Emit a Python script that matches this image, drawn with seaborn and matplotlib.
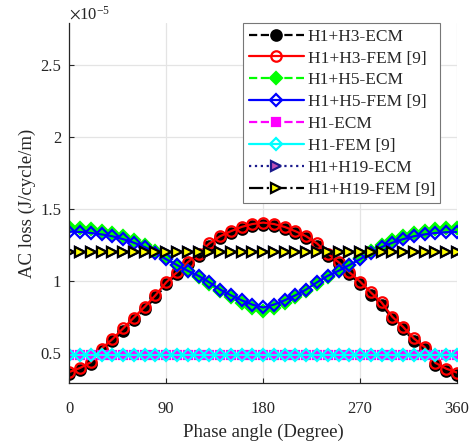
import numpy as np
import matplotlib
matplotlib.use("Agg")
import matplotlib.pyplot as plt
from matplotlib.ticker import ScalarFormatter
import seaborn as sns

# Phase angle samples (degrees)
phase = list(range(0, 361, 10))

# AC loss values in units of 1e-5 J/cycle/m
h3_fem = [0.367, 0.395, 0.435, 0.530, 0.595, 0.670, 0.745, 0.820, 0.900, 0.990,
          1.060, 1.130, 1.190, 1.260, 1.310, 1.345, 1.375, 1.395, 1.405,
          1.395, 1.375, 1.345, 1.310, 1.260, 1.190, 1.130, 1.060, 0.995, 0.920,
          0.850, 0.750, 0.680, 0.600, 0.540, 0.430, 0.390, 0.363]
h3_ecm = [0.352, 0.380, 0.420, 0.515, 0.580, 0.655, 0.730, 0.805, 0.885, 0.975,
          1.045, 1.115, 1.175, 1.245, 1.295, 1.330, 1.360, 1.380, 1.390,
          1.380, 1.360, 1.330, 1.295, 1.245, 1.175, 1.115, 1.045, 0.980, 0.905,
          0.835, 0.735, 0.665, 0.585, 0.525, 0.415, 0.375, 0.348]
h5_ecm = [1.372, 1.368, 1.360, 1.349, 1.335, 1.313, 1.286, 1.252, 1.208, 1.158,
          1.110, 1.068, 1.025, 0.978, 0.928, 0.886, 0.848, 0.812, 0.790,
          0.812, 0.848, 0.886, 0.928, 0.978, 1.025, 1.068, 1.110, 1.158, 1.208,
          1.252, 1.286, 1.313, 1.335, 1.349, 1.360, 1.366, 1.370]
h5_fem = [1.342, 1.340, 1.333, 1.323, 1.310, 1.290, 1.265, 1.235, 1.195, 1.150,
          1.110, 1.070, 1.035, 0.990, 0.940, 0.900, 0.865, 0.835, 0.815,
          0.835, 0.865, 0.900, 0.940, 0.990, 1.035, 1.070, 1.110, 1.150, 1.195,
          1.235, 1.265, 1.290, 1.310, 1.323, 1.333, 1.338, 1.340]
h1_ecm = [0.485, 0.485, 0.485, 0.485, 0.485, 0.485, 0.485, 0.485, 0.485, 0.485,
          0.485, 0.485, 0.485, 0.485, 0.485, 0.485, 0.485, 0.485, 0.485,
          0.485, 0.485, 0.485, 0.485, 0.485, 0.485, 0.485, 0.485, 0.485, 0.485,
          0.485, 0.485, 0.485, 0.485, 0.485, 0.485, 0.485, 0.485]
h1_fem = [0.485, 0.485, 0.485, 0.485, 0.485, 0.485, 0.485, 0.485, 0.485, 0.485,
          0.485, 0.485, 0.485, 0.485, 0.485, 0.485, 0.485, 0.485, 0.485,
          0.485, 0.485, 0.485, 0.485, 0.485, 0.485, 0.485, 0.485, 0.485, 0.485,
          0.485, 0.485, 0.485, 0.485, 0.485, 0.485, 0.485, 0.485]
h19_ecm = [1.20, 1.20, 1.20, 1.20, 1.20, 1.20, 1.20, 1.20, 1.20, 1.20,
           1.20, 1.20, 1.20, 1.20, 1.20, 1.20, 1.20, 1.20, 1.20,
           1.20, 1.20, 1.20, 1.20, 1.20, 1.20, 1.20, 1.20, 1.20, 1.20,
           1.20, 1.20, 1.20, 1.20, 1.20, 1.20, 1.20, 1.20]
h19_fem = [1.20, 1.20, 1.20, 1.20, 1.20, 1.20, 1.20, 1.20, 1.20, 1.20,
           1.20, 1.20, 1.20, 1.20, 1.20, 1.20, 1.20, 1.20, 1.20,
           1.20, 1.20, 1.20, 1.20, 1.20, 1.20, 1.20, 1.20, 1.20, 1.20,
           1.20, 1.20, 1.20, 1.20, 1.20, 1.20, 1.20, 1.20]

labels = ["H1+H3-ECM", "H1+H3-FEM [9]", "H1+H5-ECM", "H1+H5-FEM [9]",
          "H1-ECM", "H1-FEM [9]", "H1+H19-ECM", "H1+H19-FEM [9]"]
x_ticks = [0, 90, 180, 270, 360]
y_ticks = [0.5e-5, 1.0e-5, 1.5e-5, 2.0e-5, 2.5e-5]

SCALE = 1e-5


class PlainSciFormatter(ScalarFormatter):
    """Scientific offset on top, compact '%g' tick labels."""

    def _set_format(self):
        self.format = "%g"


sns.set_theme(style="whitegrid")
plt.rcParams["font.family"] = ["Liberation Serif", "DejaVu Serif"]
plt.rcParams["mathtext.fontset"] = "stix"

fig = plt.figure(figsize=(4.75, 4.48), dpi=100)
ax = fig.add_axes([0.146, 0.145, 0.816, 0.803])

series = [
    (h3_ecm, dict(color="black", linestyle="--", marker="o", markerfacecolor="black",
                  markeredgecolor="black")),
    (h3_fem, dict(color="red", linestyle="-", marker="o", markerfacecolor="none",
                  markeredgecolor="red")),
    (h5_ecm, dict(color="#00ff00", linestyle="--", marker="D", markerfacecolor="#00ff00",
                  markeredgecolor="#00ff00")),
    (h5_fem, dict(color="blue", linestyle="-", marker="D", markerfacecolor="none",
                  markeredgecolor="blue")),
    (h1_ecm, dict(color="magenta", linestyle="--", marker="s", markerfacecolor="magenta",
                  markeredgecolor="magenta")),
    (h1_fem, dict(color="cyan", linestyle="-", marker="D", markerfacecolor="none",
                  markeredgecolor="cyan")),
    (h19_ecm, dict(color="#1a1a8c", linestyle=":", marker=">", markerfacecolor="#c050b8",
                   markeredgecolor="#1a1a8c")),
    (h19_fem, dict(color="black", linestyle="-.", marker=">", markerfacecolor="yellow",
                   markeredgecolor="black")),
]

for (vals, style), lab in zip(series, labels):
    ms = 7.5 if style["marker"] in ("o", ">") else 6.5
    if style["marker"] == "s":
        ms = 5.5
    sns.lineplot(x=phase, y=np.array(vals) * SCALE, ax=ax, label=lab,
                 linewidth=1.6, markersize=ms, markeredgewidth=1.6, **style)

ax.set_xlim(0, 360)
ax.set_ylim(0.29e-5, 2.79e-5)
ax.set_xticks(x_ticks)
ax.set_yticks(y_ticks)

fmt = PlainSciFormatter(useMathText=True)
fmt.set_powerlimits((0, 0))
ax.yaxis.set_major_formatter(fmt)
ax.yaxis.get_offset_text().set_fontsize(12)
ax.yaxis.get_offset_text().set_color("#262626")

ax.grid(True, color="#e4e4e4", linewidth=0.9)
for side in ("top", "right"):
    ax.spines[side].set_visible(False)
for side in ("left", "bottom"):
    ax.spines[side].set_color("#262626")
    ax.spines[side].set_linewidth(0.9)

ax.tick_params(axis="both", direction="in", length=3.5, width=0.8, colors="#262626",
               labelsize=12, labelcolor="#262626")
ax.tick_params(axis="x", pad=13)
ax.tick_params(axis="y", pad=6)
ax.tick_params(left=True, bottom=True)

ax.set_xlabel("Phase angle (Degree)", fontsize=13.5, color="#262626", labelpad=5)
ax.set_ylabel("AC loss (J/cycle/m)", fontsize=13.5, color="#262626", labelpad=3)

leg = ax.legend(loc="upper right", bbox_to_anchor=(0.957, 1.0), borderaxespad=0,
                fontsize=12.5, numpoints=1, handlelength=3.2, handletextpad=0.2,
                labelspacing=0.33, borderpad=0.3, frameon=True, fancybox=False,
                framealpha=1, edgecolor="#777777")
leg.get_frame().set_linewidth(0.8)
for t in leg.get_texts():
    t.set_color("#262626")

fig.savefig("out.png", dpi=100)
